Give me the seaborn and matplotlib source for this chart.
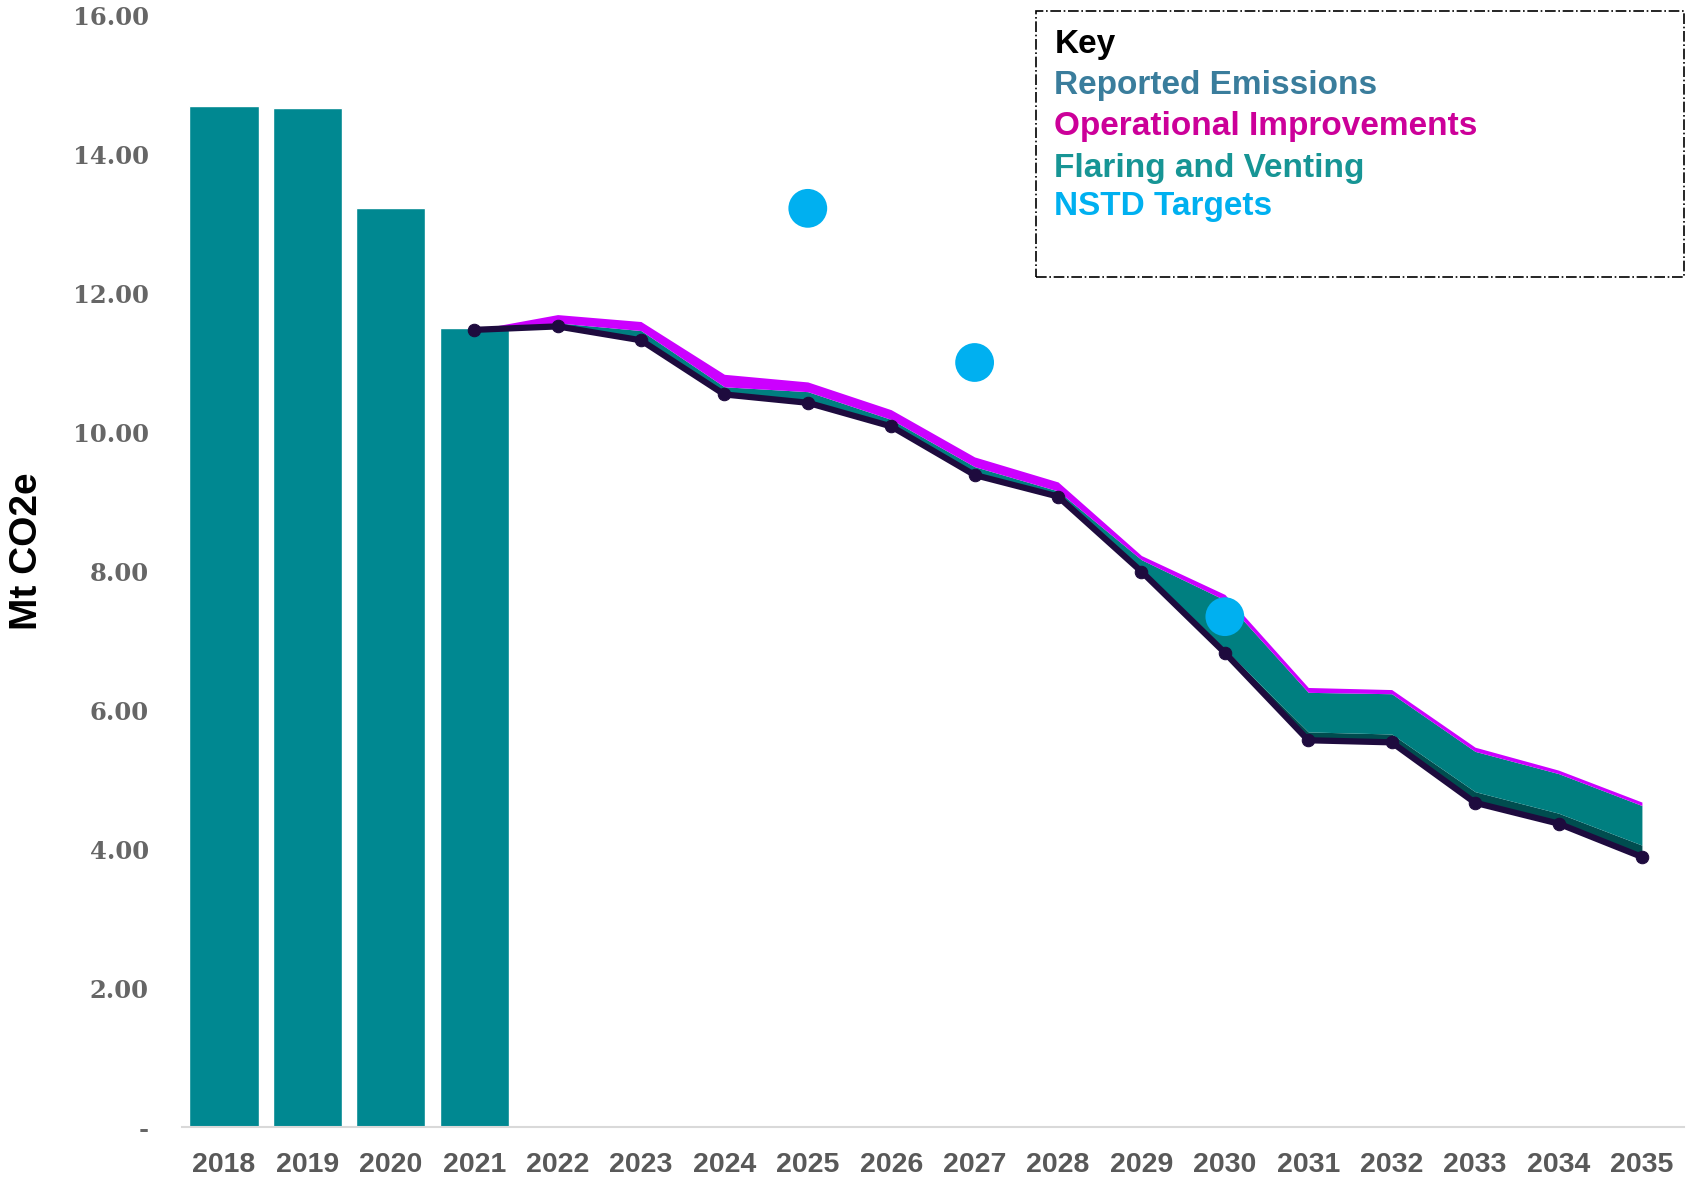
import matplotlib
matplotlib.use("Agg")
import matplotlib.pyplot as plt
from matplotlib.patches import Rectangle
import seaborn as sns

# Historische Emissionen (Balken)
bar_years = [2018, 2019, 2020, 2021]
bar_values = [14.70, 14.67, 13.24, 11.50]

# Projektion ab 2021
proj_years = [2021, 2022, 2023, 2024, 2025, 2026, 2027, 2028,
              2029, 2030, 2031, 2032, 2033, 2034, 2035]
line_values = [11.48, 11.53, 11.33, 10.55, 10.43, 10.09, 9.39, 9.08,
               8.00, 6.83, 5.57, 5.54, 4.67, 4.37, 3.89]
dark_band = [0.00, 0.02, 0.04, 0.04, 0.04, 0.04, 0.04, 0.04,
             0.04, 0.05, 0.12, 0.12, 0.16, 0.15, 0.17]
flaring = [0.00, 0.03, 0.10, 0.07, 0.12, 0.06, 0.08, 0.04,
           0.13, 0.71, 0.57, 0.58, 0.58, 0.57, 0.57]
operational = [0.00, 0.12, 0.13, 0.18, 0.14, 0.14, 0.14, 0.13,
               0.06, 0.08, 0.07, 0.06, 0.06, 0.05, 0.05]

# NSTD Ziele
target_years = [2025, 2027, 2030]
target_values = [13.23, 11.01, 7.35]

all_years = list(range(2018, 2036))
y_ticks = [0, 2, 4, 6, 8, 10, 12, 14, 16]

key_items = [("Key", "#000000"),
             ("Reported Emissions", "#3A7D9C"),
             ("Operational Improvements", "#CC0099"),
             ("Flaring and Venting", "#179595"),
             ("NSTD Targets", "#00B0F0")]

sns.set_style("white")
plt.rcParams['font.family'] = ['Liberation Sans', 'DejaVu Sans']

fig = plt.figure(figsize=(16.87, 11.84), dpi=100)
ax = fig.add_axes([0.108, 0.0481, 0.890, 0.9384])

sns.barplot(x=bar_years, y=bar_values, native_scale=True, width=0.83,
            color="#008891", saturation=1, ax=ax, zorder=1)

# gestapelte Flächen über der Linie
lower = list(line_values)
for band, col in [(dark_band, "#004D4F"), (flaring, "#007F80"), (operational, "#CC00FF")]:
    upper = [a + b for a, b in zip(lower, band)]
    ax.fill_between(proj_years, lower, upper, color=col, linewidth=0, zorder=2)
    lower = upper

sns.lineplot(x=proj_years, y=line_values, color="#1E0B3E", linewidth=4.5,
             marker="o", markersize=9, markeredgecolor="#1E0B3E", ax=ax, zorder=3)

sns.scatterplot(x=target_years, y=target_values, s=780, color="#00B0F0",
                edgecolor="none", ax=ax, zorder=4)

ax.set_xlim(2017.5, 2035.5)
ax.set_ylim(0, 16)
ax.set_xticks(all_years)
ax.set_xticklabels([str(y) for y in all_years], fontsize=20.5, fontweight="bold",
                   color="#595959")
ax.set_yticks(y_ticks)
ax.set_yticklabels(["-" if v == 0 else f"{v:.2f}" for v in y_ticks], fontsize=17.5,
                   fontweight="bold", color="#666666", family="DejaVu Serif")
ax.tick_params(axis="x", length=0, pad=18)
ax.tick_params(axis="y", length=0, pad=24)
ax.set_xlabel("")
ax.set_ylabel("")
for s in ["top", "right", "left"]:
    ax.spines[s].set_visible(False)
ax.spines["bottom"].set_color("#D9D9D9")
ax.spines["bottom"].set_linewidth(1.5)

fig.text(27 / 1687, 1 - 551 / 1184, "Mt CO2e", rotation=90, ha="center", va="center",
         fontsize=28, fontweight="bold", color="#000000")

# Legende als Kasten
fig.patches.append(Rectangle((0.614, 0.766), 0.384, 0.225, transform=fig.transFigure,
                             fill=False, edgecolor="#000000", linestyle="-.", linewidth=1.2))
y_pos = [0.962, 0.928, 0.893, 0.858, 0.826]
for (label, col), yy in zip(key_items, y_pos):
    fig.text(0.625, yy, label, color=col, fontsize=24, fontweight="bold", va="center", ha="left")

fig.savefig("out.png", dpi=100)
